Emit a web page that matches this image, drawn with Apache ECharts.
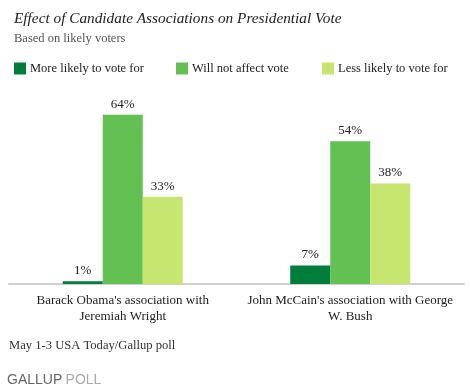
<!DOCTYPE html>
<html><head><meta charset="utf-8">
<script src="https://cdn.jsdelivr.net/npm/echarts@6/dist/echarts.min.js"></script>
<style>html,body{margin:0;padding:0;background:#fff}#c{width:470px;height:391px}</style>
</head><body><div id="c"></div>
<script>
const categories = ["Barack Obama's association with\nJeremiah Wright", "John McCain's association with George\nW. Bush"];
const seriesNames = ["More likely to vote for", "Will not affect vote", "Less likely to vote for"];
const moreLikely = [1, 7];
const noEffect = [64, 54];
const lessLikely = [33, 38];
const colors = ['#007d3a', '#62c152', '#c6e66f'];
const serif = 'Liberation Serif';

const chart = echarts.init(document.getElementById('c'));
const vals = [moreLikely, noEffect, lessLikely];
const legendLefts = [9, 171, 317];
chart.setOption({
  animation: false,
  title: {
    text: 'Effect of Candidate Associations on Presidential Vote',
    subtext: 'Based on likely voters',
    left: 9, top: 6, itemGap: 6,
    textStyle: {fontFamily: serif, fontStyle: 'italic', fontWeight: 'normal', fontSize: 15.3, color: '#222'},
    subtextStyle: {fontFamily: serif, fontSize: 12.5, color: '#555'}
  },
  legend: seriesNames.map((n, i) => ({
    left: legendLefts[i], top: 57, itemWidth: 12, itemHeight: 12, itemGap: 8,
    icon: 'rect',
    textStyle: {fontFamily: serif, fontSize: 12.5, color: '#222', padding: [0, 0, 0, -1]},
    data: [n]
  })),
  grid: {left: 9, right: 6, top: 99, bottom: 107},
  xAxis: {
    type: 'category', data: categories,
    axisLine: {lineStyle: {color: '#d0d0cc', width: 2}},
    axisTick: {show: false},
    axisLabel: {interval: 0, fontFamily: serif, fontSize: 13, color: '#222', lineHeight: 16, margin: 9}
  },
  yAxis: {type: 'value', min: 0, max: 70, show: false, splitLine: {show: false}},
  series: seriesNames.map((n, i) => ({
    name: n, type: 'bar', data: vals[i], barWidth: 40, barGap: '0%',
    itemStyle: {color: colors[i]},
    label: {show: true, position: 'top', formatter: '{c}%', fontFamily: serif, fontSize: 13, color: '#222', distance: 4}
  })),
  graphic: [
    {type: 'text', left: 9, top: 339, style: {text: 'May 1-3 USA Today/Gallup poll', font: '12.6px "Liberation Serif"', fill: '#333'}},
    {type: 'text', left: 7, top: 373, style: {
      text: '{a|GALLUP} {b|POLL}',
      rich: {a: {fontFamily: 'Liberation Sans', fontSize: 14, fill: '#666'}, b: {fontFamily: 'Liberation Sans', fontSize: 14, fill: '#aaa'}}
    }}
  ]
});
</script></body></html>
